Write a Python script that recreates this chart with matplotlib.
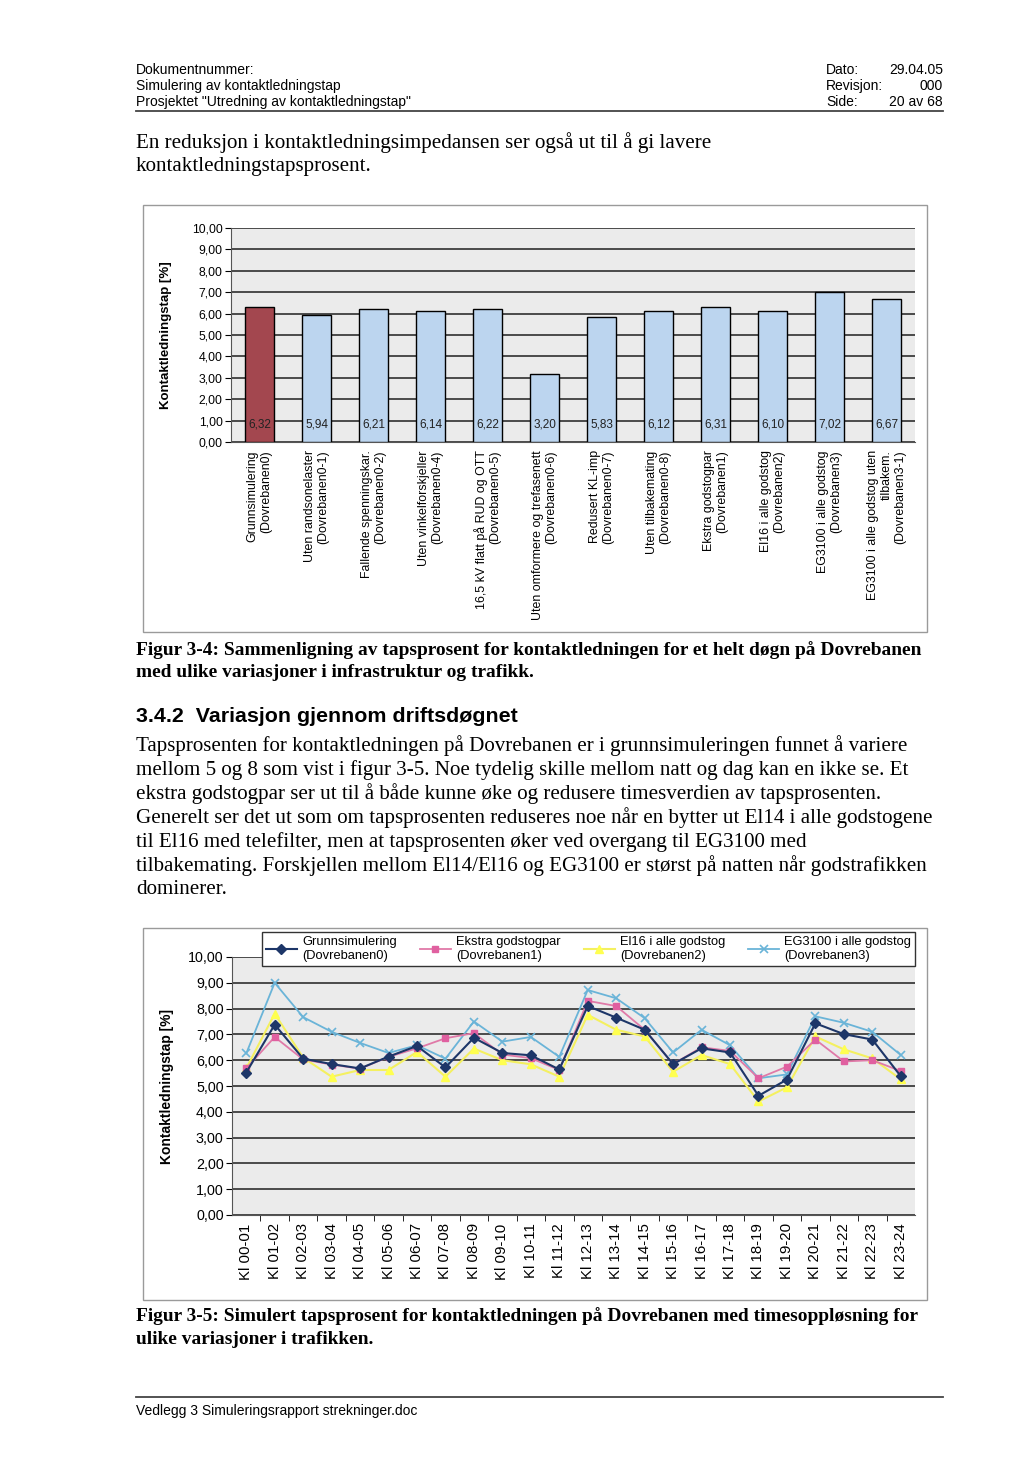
import matplotlib
matplotlib.use("Agg")
import matplotlib.pyplot as plt
from matplotlib.patches import Rectangle
from matplotlib.lines import Line2D

# ---------------- data ----------------
bar_categories = [
    "Grunnsimulering\n(Dovrebanen0)",
    "Uten randsonelaster\n(Dovrebanen0-1)",
    "Fallende spenningskar.\n(Dovrebanen0-2)",
    "Uten vinkelforskjeller\n(Dovrebanen0-4)",
    "16,5 kV flatt på RUD og OTT\n(Dovrebanen0-5)",
    "Uten omformere og trefasenett\n(Dovrebanen0-6)",
    "Redusert KL-imp\n(Dovrebanen0-7)",
    "Uten tilbakemating\n(Dovrebanen0-8)",
    "Ekstra godstogpar\n(Dovrebanen1)",
    "El16 i alle godstog\n(Dovrebanen2)",
    "EG3100 i alle godstog\n(Dovrebanen3)",
    "EG3100 i alle godstog uten\ntilbakem.\n(Dovrebanen3-1)",
]
bar_values = [6.32, 5.94, 6.21, 6.14, 6.22, 3.20, 5.83, 6.12, 6.31, 6.10, 7.02, 6.67]

hours = ["Kl 00-01", "Kl 01-02", "Kl 02-03", "Kl 03-04", "Kl 04-05", "Kl 05-06",
         "Kl 06-07", "Kl 07-08", "Kl 08-09", "Kl 09-10", "Kl 10-11", "Kl 11-12",
         "Kl 12-13", "Kl 13-14", "Kl 14-15", "Kl 15-16", "Kl 16-17", "Kl 17-18",
         "Kl 18-19", "Kl 19-20", "Kl 20-21", "Kl 21-22", "Kl 22-23", "Kl 23-24"]
grunn = [5.52, 7.38, 6.06, 5.85, 5.68, 6.14, 6.55, 5.72, 6.87, 6.28, 6.19, 5.64,
         8.10, 7.65, 7.18, 5.85, 6.46, 6.30, 4.62, 5.25, 7.43, 7.01, 6.80, 5.38]
ekstra = [5.68, 6.90, 6.03, 5.83, 5.67, 6.13, 6.46, 6.85, 7.05, 6.22, 6.08, 5.62,
          8.30, 8.10, 7.18, 5.85, 6.50, 6.36, 5.30, 5.75, 6.80, 5.95, 6.00, 5.58]
el16 = [5.68, 7.80, 6.10, 5.36, 5.62, 5.62, 6.32, 5.36, 6.45, 6.00, 5.84, 5.36,
        7.76, 7.18, 6.92, 5.55, 6.20, 5.85, 4.40, 4.95, 6.92, 6.42, 6.07, 5.26]
eg3100 = [6.26, 9.00, 7.67, 7.10, 6.67, 6.28, 6.58, 6.06, 7.50, 6.72, 6.90, 6.13,
          8.72, 8.40, 7.63, 6.30, 7.18, 6.58, 5.30, 5.45, 7.70, 7.45, 7.10, 6.20]
series_names = ["Grunnsimulering\n(Dovrebanen0)", "Ekstra godstogpar\n(Dovrebanen1)",
                "El16 i alle godstog\n(Dovrebanen2)", "EG3100 i alle godstog\n(Dovrebanen3)"]
yticks = [0, 1, 2, 3, 4, 5, 6, 7, 8, 9, 10]

# ---------------- page ----------------
W, H = 1024, 1481
fig = plt.figure(figsize=(W / 100, H / 100), dpi=100)
fig.patch.set_facecolor("white")
SANS = ["Liberation Sans", "DejaVu Sans"]
SERIF = ["Liberation Serif", "DejaVu Serif"]


def fx(x):
    return x / W


def fy(y):
    return 1 - y / H


def txt(x, y, s, **kw):
    fig.text(fx(x), fy(y), s, **kw)


def hline(x0, x1, y, lw=1.0, color="#444444"):
    fig.add_artist(Line2D([fx(x0), fx(x1)], [fy(y), fy(y)], lw=lw, color=color,
                          transform=fig.transFigure))


def box(x0, y0, x1, y1, ec="#9a9a9a", lw=1.0):
    fig.add_artist(Rectangle((fx(x0), fy(y1)), fx(x1) - fx(x0), fy(y0) - fy(y1),
                             transform=fig.transFigure, fill=False, ec=ec, lw=lw))


def axes_px(x0, y0, x1, y1):
    return fig.add_axes([fx(x0), fy(y1), fx(x1) - fx(x0), fy(y0) - fy(y1)])


# header
hs = 10.0
txt(136, 70, "Dokumentnummer:", family=SANS, fontsize=hs, va="center")
txt(136, 86, "Simulering av kontaktledningstap", family=SANS, fontsize=hs, va="center")
txt(136, 102, 'Prosjektet "Utredning av kontaktledningstap"', family=SANS, fontsize=hs, va="center")
txt(826, 70, "Dato:", family=SANS, fontsize=hs, va="center")
txt(826, 86, "Revisjon:", family=SANS, fontsize=hs, va="center")
txt(826, 102, "Side:", family=SANS, fontsize=hs, va="center")
txt(943, 70, "29.04.05", family=SANS, fontsize=hs, va="center", ha="right")
txt(943, 86, "000", family=SANS, fontsize=hs, va="center", ha="right")
txt(943, 102, "20 av 68", family=SANS, fontsize=hs, va="center", ha="right")
hline(136, 943, 111, lw=1.3)

bs = 15.1
txt(136, 143, "En reduksjon i kontaktledningsimpedansen ser også ut til å gi lavere",
    family=SERIF, fontsize=bs, va="center")
txt(136, 167, "kontaktledningstapsprosent.", family=SERIF, fontsize=bs, va="center")

# ---------------- bar chart ----------------
box(143, 205, 927, 632)
ax1 = axes_px(231, 228, 915, 442)
ax1.set_facecolor("#ebebeb")
xs = list(range(len(bar_values)))
colors = ["#a3474f"] + ["#bcd5ef"] * (len(bar_values) - 1)
ax1.bar(xs, bar_values, width=0.52, color=colors, edgecolor="black", linewidth=1.0, zorder=3)
for x, v in zip(xs, bar_values):
    ax1.text(x, 0.8, f"{v:.2f}".replace(".", ","), ha="center", va="center",
             fontsize=8.5, family=SANS, zorder=4, color="#222222")
ax1.set_xlim(-0.5, len(bar_values) - 0.5)
ax1.set_ylim(0, 10)
ax1.set_yticks(yticks)
ax1.set_yticklabels([f"{t:.2f}".replace(".", ",") for t in yticks], family=SANS, fontsize=8.8)
ax1.yaxis.grid(True, color="#4a4a4a", lw=1.4, zorder=1)
ax1.set_axisbelow(True)
ax1.set_xticks(xs)
ax1.set_xticklabels(bar_categories, rotation=90, ha="center", va="top",
                    multialignment="right", family=SANS, fontsize=8.9, linespacing=1.15)
ax1.tick_params(axis="x", length=0, pad=6)
ax1.tick_params(axis="y", length=4, pad=2, direction="out")
for s in ["top", "right"]:
    ax1.spines[s].set_visible(False)
ax1.spines["left"].set_color("#555555")
ax1.spines["bottom"].set_color("#555555")
ax1.set_ylabel("Kontaktledningstap [%]", family=SANS, fontsize=9.5, fontweight="bold",
               labelpad=14)

# captions & text
cs = 13.95
txt(136, 650, "Figur 3-4: Sammenligning av tapsprosent for kontaktledningen for et helt døgn på Dovrebanen",
    family=SERIF, fontsize=cs, fontweight="bold", va="center")
txt(136, 673, "med ulike variasjoner i infrastruktur og trafikk.",
    family=SERIF, fontsize=cs, fontweight="bold", va="center")

txt(136, 716, "3.4.2  Variasjon gjennom driftsdøgnet", family=SANS, fontsize=15.4,
    fontweight="bold", va="center")

para = [
    "Tapsprosenten for kontaktledningen på Dovrebanen er i grunnsimuleringen funnet å variere",
    "mellom 5 og 8 som vist i figur 3-5. Noe tydelig skille mellom natt og dag kan en ikke se. Et",
    "ekstra godstogpar ser ut til å både kunne øke og redusere timesverdien av tapsprosenten.",
    "Generelt ser det ut som om tapsprosenten reduseres noe når en bytter ut El14 i alle godstogene",
    "til El16 med telefilter, men at tapsprosenten øker ved overgang til EG3100 med",
    "tilbakemating. Forskjellen mellom El14/El16 og EG3100 er størst på natten når godstrafikken",
    "dominerer.",
]
for i, line in enumerate(para):
    txt(136, 746 + 24 * i, line, family=SERIF, fontsize=bs, va="center")

# ---------------- line chart ----------------
box(143, 928, 927, 1300)
ax2 = axes_px(232, 957, 915, 1215)
ax2.set_facecolor("#ebebeb")
hx = list(range(len(hours)))
ax2.plot(hx, grunn, color="#1d3668", lw=1.5, marker="D", ms=5, mfc="#1d3668",
         mec="#1d3668", zorder=6, label=series_names[0])
ax2.plot(hx, ekstra, color="#e07aa8", lw=1.3, marker="s", ms=5, mfc="#e060a0",
         mec="#e060a0", zorder=5, label=series_names[1])
ax2.plot(hx, el16, color="#f4f060", lw=1.5, marker="^", ms=6, mfc="#ffff50",
         mec="#ffff50", zorder=4, label=series_names[2])
ax2.plot(hx, eg3100, color="#6ab4d8", lw=1.3, marker="x", ms=6, mew=1.2,
         mec="#6ab4d8", zorder=3, label=series_names[3])
ax2.set_xlim(-0.5, len(hours) - 0.5)
ax2.set_ylim(0, 10)
ax2.set_yticks(yticks)
ax2.set_yticklabels([f"{t:.2f}".replace(".", ",") for t in yticks], family=SANS, fontsize=10.3)
ax2.yaxis.grid(True, color="#4a4a4a", lw=1.4, zorder=1)
ax2.set_axisbelow(True)
ax2.set_xticks(hx)
ax2.set_xticklabels(hours, rotation=90, family=SANS, fontsize=10.8)
ax2.set_xticks([x + 0.5 for x in hx[:-1]], minor=True)
ax2.tick_params(axis="x", which="major", length=0, pad=6)
ax2.tick_params(axis="x", which="minor", length=4, direction="out")
ax2.tick_params(axis="y", length=4, pad=2, direction="out")
for s in ["top", "right"]:
    ax2.spines[s].set_visible(False)
ax2.spines["left"].set_color("#555555")
ax2.spines["bottom"].set_color("#555555")
ax2.set_ylabel("Kontaktledningstap [%]", family=SANS, fontsize=10, fontweight="bold",
               labelpad=10)
leg = ax2.legend(loc="center", bbox_to_anchor=(fx(262), fy(970), fx(915) - fx(262), fy(928) - fy(970)),
                 bbox_transform=fig.transFigure, mode="expand", ncol=4, frameon=True,
                 fancybox=False, edgecolor="#333333", prop={"family": SANS, "size": 9.3},
                 handlelength=2.4, handletextpad=0.4, borderaxespad=0, borderpad=0.3,
                 columnspacing=0.8, framealpha=1.0)
leg.get_frame().set_linewidth(1.0)
leg.set_zorder(10)

txt(136, 1316, "Figur 3-5: Simulert tapsprosent for kontaktledningen på Dovrebanen med timesoppløsning for",
    family=SERIF, fontsize=cs, fontweight="bold", va="center")
txt(136, 1339, "ulike variasjoner i trafikken.", family=SERIF, fontsize=cs, fontweight="bold", va="center")

hline(136, 943, 1397, lw=1.3)
txt(136, 1411, "Vedlegg 3 Simuleringsrapport strekninger.doc", family=SANS, fontsize=hs, va="center")

fig.savefig("out.png", dpi=100)
